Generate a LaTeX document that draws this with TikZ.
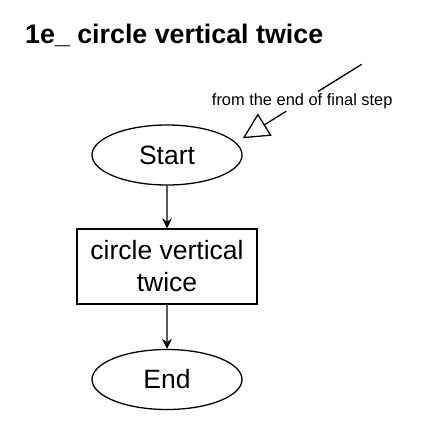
\documentclass[tikz,border=0pt]{standalone}
\usepackage{fontspec}
\setmainfont{Liberation Sans}
\usepackage{xcolor}
\usetikzlibrary{arrows.meta,positioning,calc,shapes.geometric}
\tikzset{
  term/.style={draw=black, ellipse, line width=1.3pt, minimum width=150pt,
               minimum height=60pt, inner sep=0pt, font=\fontsize{26.5}{32}\selectfont},
  proc/.style={draw=black, line width=1.3pt, minimum width=180pt, minimum height=75pt,
               align=center, inner sep=0pt, font=\fontsize{26.5}{32}\selectfont},
  flow/.style={-{Stealth[length=10pt, width=10pt]}, line width=1.3pt, draw=black},
  hint/.style={-{Triangle[open, length=26pt, width=26pt]}, line width=1.3pt, draw=black},
  hinttext/.style={inner sep=2pt, font=\fontsize{16.4}{19}\selectfont}
}
\begin{document}
\begin{tikzpicture}[scale=0.035146]
        \useasboundingbox (0,0) rectangle (422,-427);
        % title
        \node[anchor=base west, inner sep=0pt, font=\fontsize{26.8}{32}\bfseries] (title) at (25,-44) {1e\_ circle vertical twice};

        % flow
        \node[term] (start) at (167,-155) {Start};
        \node[proc] (circ) at (167,-266.5) {circle vertical\\twice};
        \node[term] (end) at (167,-379.5) {End};
        \draw[flow] (start) -- (circ);
        \draw[flow] (circ) -- (end);

        % note on entry
        \coordinate (from) at (361.7,-64.3);
        \coordinate (tip) at (242.7,-138.3);
        \node[hinttext] (note) at ($(from)!0.5!(tip)$) {from the end of final step};
        \draw[line width=1.3pt] (from) -- (note);
        \draw[hint] (note) -- (tip);
\end{tikzpicture}
\end{document}
